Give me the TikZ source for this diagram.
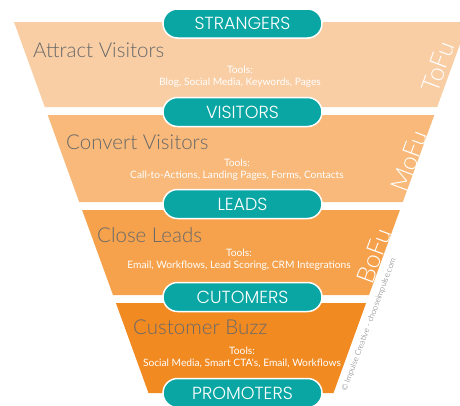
\documentclass[tikz,border=0pt]{standalone}
\usepackage{fontspec}
\setmainfont{Lato Light}
\newfontfamily\pillfont{Poppins Light}
\newfontfamily\toolsfont{Lato}
\usepackage{tikz}
\usetikzlibrary{shapes.misc}
\definecolor{tofu}{RGB}{249,206,165}
\definecolor{mofu}{RGB}{248,185,122}
\definecolor{bofu}{RGB}{246,162,76}
\definecolor{buzz}{RGB}{242,138,34}
\definecolor{pillteal}{RGB}{10,166,164}
\definecolor{headgray}{RGB}{105,105,105}
\tikzset{stage/.style={draw=white, line width=1.5pt, fill=pillteal, shape=rounded rectangle, minimum width=159pt, minimum height=29pt, inner sep=0pt, text=white, font=\pillfont\fontsize{17.5}{17.5}\selectfont}}
\tikzset{heading/.style={anchor=base west, inner sep=0pt, text=headgray, font=\fontsize{20.5}{24}\selectfont}}
\tikzset{tools/.style={align=center, inner sep=0pt, text=white, font=\toolsfont\fontsize{10.2}{12}\selectfont}}
\tikzset{fu/.style={rotate=69.5, inner sep=0pt, text=white, font=\fontsize{25}{25}\selectfont}}

\begin{document}
\begin{tikzpicture}[x=1pt, y=-1pt]
    \useasboundingbox (0,0) rectangle (460,405);
    \clip (0,0) rectangle (460,405);

    \coordinate (T1L) at (14, 22);
    \coordinate (T1R) at (468, 22);
    \coordinate (B1L) at (44.8, 107);
    \coordinate (B1R) at (437.2, 107);
    \coordinate (T2L) at (47.7, 115);
    \coordinate (T2R) at (434.3, 115);
    \coordinate (B2L) at (79.2, 202);
    \coordinate (B2R) at (402.8, 202);
    \coordinate (T3L) at (82.1, 210);
    \coordinate (T3R) at (399.9, 210);
    \coordinate (B3L) at (113, 295);
    \coordinate (B3R) at (369, 295);
    \coordinate (T4L) at (115.9, 303);
    \coordinate (T4R) at (366.1, 303);
    \coordinate (B4L) at (148.5, 393);
    \coordinate (B4R) at (333.5, 393);

    \fill [tofu] (T1L) -- (T1R) -- (B1R) -- (B1L) -- cycle;
    \fill [mofu] (T2L) -- (T2R) -- (B2R) -- (B2L) -- cycle;
    \fill [bofu] (T3L) -- (T3R) -- (B3R) -- (B3L) -- cycle;
    \fill [buzz] (T4L) -- (T4R) -- (B4R) -- (B4L) -- cycle;

    \node [heading] (attract) at (33, 57) {Attract Visitors};
    \node [heading] (convert) at (66, 149) {Convert Visitors};
    \node [heading] (close) at (97, 242) {Close Leads};
    \node [heading] (buzzhead) at (133, 334) {Customer Buzz};

    \node [tools] (tools1) at (240, 76.5) {Tools:\\Blog, Social Media, Keywords, Pages};
    \node [tools] (tools2) at (237, 169.5) {Tools:\\Call-to-Actions, Landing Pages, Forms, Contacts};
    \node [tools] (tools3) at (239, 259.5) {Tools:\\Email, Workflows, Lead Scoring, CRM Integrations};
    \node [tools] (tools4) at (242, 357.5) {Tools:\\Social Media, Smart CTA's, Email, Workflows};

    \node [fu] (tofulbl) at (438, 67) {ToFu};
    \node [fu] (mofulbl) at (409, 161) {MoFu};
    \node [fu] (bofulbl) at (374, 256) {BoFu};
    \node [rotate=69.5, inner sep=0pt, text=headgray, font=\fontsize{8}{8}\selectfont] (credit) at (369, 325) {\textcopyright{} Impulse Creative - chooseimpulse.com};

    \node [stage] (strangers) at (242.5, 23.5) {STRANGERS};
    \node [stage] (visitors) at (242.5, 112) {VISITORS};
    \node [stage] (leads) at (242.5, 204) {LEADS};
    \node [stage] (cutomers) at (242.5, 297) {CUTOMERS};
    \node [stage] (promoters) at (242.5, 393) {PROMOTERS};
\end{tikzpicture}
\end{document}
